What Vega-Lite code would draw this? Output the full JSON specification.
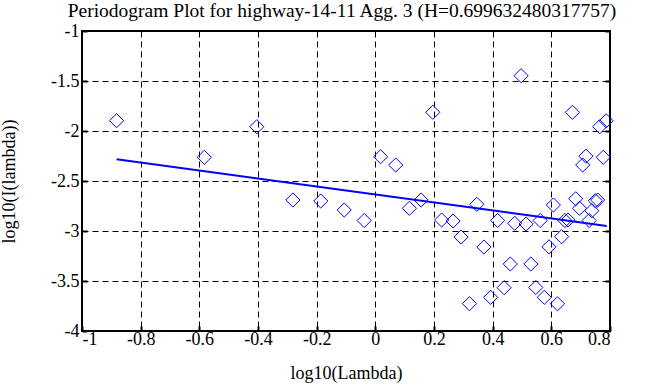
{
  "$schema": "https://vega.github.io/schema/vega-lite/v6.json",
  "width": 528,
  "height": 300,
  "autosize": {"type": "none"},
  "padding": {"top": 31, "left": 82, "right": 58, "bottom": 56},
  "background": "white",
  "title": {
    "text": "Periodogram Plot for highway-14-11 Agg. 3 (H=0.699632480317757)",
    "font": "Liberation Serif",
    "fontSize": 19.5,
    "fontWeight": "normal",
    "color": "black",
    "anchor": "middle",
    "baseline": "alphabetic",
    "offset": -5,
    "dx": -4,
    "dy": 9
  },
  "config": {
    "view": {"stroke": "black", "strokeWidth": 2},
    "axis": {
      "labelFont": "Liberation Serif",
      "labelFontSize": 18,
      "labelColor": "black",
      "titleFont": "Liberation Serif",
      "titleFontSize": 18,
      "titleFontWeight": "normal",
      "titleColor": "black",
      "domain": false,
      "tickColor": "black",
      "tickWidth": 2,
      "tickSize": -5,
      "gridColor": "black",
      "gridDash": [6, 4],
      "gridWidth": 1,
      "gridOpacity": 1
    }
  },
  "datasets": {
    "points": [
      {"x": -0.882, "y": -1.897},
      {"x": -0.583, "y": -2.263},
      {"x": -0.404, "y": -1.957},
      {"x": -0.281, "y": -2.69},
      {"x": -0.186, "y": -2.70},
      {"x": -0.106, "y": -2.79},
      {"x": -0.038, "y": -2.895},
      {"x": 0.018, "y": -2.257},
      {"x": 0.0695, "y": -2.34},
      {"x": 0.116, "y": -2.773},
      {"x": 0.156, "y": -2.69},
      {"x": 0.196, "y": -1.813},
      {"x": 0.226, "y": -2.89},
      {"x": 0.265, "y": -2.90},
      {"x": 0.292, "y": -3.06},
      {"x": 0.321, "y": -3.727},
      {"x": 0.346, "y": -2.733},
      {"x": 0.370, "y": -3.16},
      {"x": 0.393, "y": -3.663},
      {"x": 0.417, "y": -2.895},
      {"x": 0.439, "y": -3.567},
      {"x": 0.460, "y": -3.33},
      {"x": 0.475, "y": -2.923},
      {"x": 0.497, "y": -1.447},
      {"x": 0.514, "y": -2.93},
      {"x": 0.530, "y": -3.33},
      {"x": 0.547, "y": -3.565},
      {"x": 0.562, "y": -2.895},
      {"x": 0.576, "y": -3.663},
      {"x": 0.592, "y": -3.158},
      {"x": 0.607, "y": -2.74},
      {"x": 0.621, "y": -3.728},
      {"x": 0.635, "y": -3.057},
      {"x": 0.646, "y": -2.895},
      {"x": 0.657, "y": -2.89},
      {"x": 0.672, "y": -1.813},
      {"x": 0.683, "y": -2.678},
      {"x": 0.696, "y": -2.773},
      {"x": 0.707, "y": -2.34},
      {"x": 0.718, "y": -2.252},
      {"x": 0.729, "y": -2.895},
      {"x": 0.738, "y": -2.797},
      {"x": 0.750, "y": -2.698},
      {"x": 0.758, "y": -2.69},
      {"x": 0.765, "y": -1.957},
      {"x": 0.777, "y": -2.263},
      {"x": 0.787, "y": -1.898}
    ],
    "fit": [
      {"x": -0.882, "y": -2.283},
      {"x": 0.789, "y": -2.950}
    ]
  },
  "layer": [
    {
      "data": {"name": "points"},
      "mark": {"type": "point", "shape": "diamond", "filled": false, "stroke": "#0000ff", "strokeWidth": 1, "size": 200, "opacity": 1},
      "encoding": {
        "x": {
          "field": "x", "type": "quantitative",
          "scale": {"domain": [-1, 0.8], "nice": false, "zero": false},
          "axis": {"title": "log10(Lambda)", "values": [-1, -0.8, -0.6, -0.4, -0.2, 0, 0.2, 0.4, 0.6, 0.8], "labelExpr": "'' + datum.value", "labelPadding": 4, "titlePadding": 16, "grid": true}
        },
        "y": {
          "field": "y", "type": "quantitative",
          "scale": {"domain": [-4, -1], "nice": false, "zero": false},
          "axis": {"title": "log10(I(lambda))", "values": [-4, -3.5, -3, -2.5, -2, -1.5, -1], "labelExpr": "'' + datum.value", "labelPadding": 8, "titlePadding": 32, "grid": true}
        }
      }
    },
    {
      "data": {"name": "fit"},
      "mark": {"type": "line", "color": "#0000ff", "strokeWidth": 2},
      "encoding": {
        "x": {"field": "x", "type": "quantitative",
          "axis": {"title": "log10(Lambda)", "values": [-1, -0.8, -0.6, -0.4, -0.2, 0, 0.2, 0.4, 0.6, 0.8], "labelExpr": "'' + datum.value", "labelPadding": 4, "titlePadding": 16, "grid": true}},
        "y": {"field": "y", "type": "quantitative", "axis": {"orient": "right", "title": null, "labels": false, "grid": false, "values": [-4, -3.5, -3, -2.5, -2, -1.5, -1]}}
      }
    }
  ],
  "resolve": {"axis": {"y": "independent"}}
}
